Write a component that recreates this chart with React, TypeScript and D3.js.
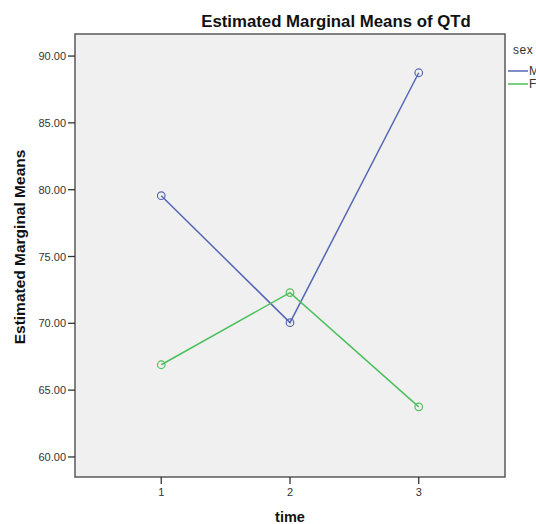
import React from "react";
import * as d3 from "d3";

const times = [1, 2, 3];
const xTickLabels = ["1", "2", "3"];
const yTicks = [60, 65, 70, 75, 80, 85, 90];
const maleValues = [79.55, 70.05, 88.75];
const femaleValues = [66.9, 72.3, 63.75];
const seriesNames = ["M", "F"];
const seriesColors = ["#5467b6", "#4cc05c"];

const W = 536;
const H = 524;
const plot = { left: 75, top: 34, right: 505, bottom: 477 };

export default function App() {
  const x = d3.scaleLinear().domain([0.33, 3.67]).range([plot.left, plot.right]);
  const y = d3.scaleLinear().domain([58.5, 91.65]).range([plot.bottom, plot.top]);
  const line = d3
    .line<number>()
    .x((_, i) => x(times[i]))
    .y((d) => y(d));
  const series = [maleValues, femaleValues];
  const font = "'Liberation Sans', Arial, sans-serif";

  return (
    <svg
      width={W}
      height={H}
      style={{ position: "absolute", left: 0, top: 0, background: "#fff" }}
      fontFamily={font}
    >
      <text x={336} y={26.5} textAnchor="middle" fontSize={16.8} fontWeight="bold" fill="#111">
        Estimated Marginal Means of QTd
      </text>
      <rect
        x={plot.left}
        y={plot.top}
        width={plot.right - plot.left}
        height={plot.bottom - plot.top}
        fill="#f0f0f0"
        stroke="#5a5a5a"
        strokeWidth={1.5}
      />
      {yTicks.map((t) => (
        <g key={t}>
          <line x1={plot.left - 7} x2={plot.left} y1={y(t)} y2={y(t)} stroke="#333" strokeWidth={1.3} />
          <text x={plot.left - 9} y={y(t) + 4} textAnchor="end" fontSize={11} fill="#333">
            {t.toFixed(2)}
          </text>
        </g>
      ))}
      {times.map((t, i) => (
        <g key={t}>
          <line x1={x(t)} x2={x(t)} y1={plot.bottom} y2={plot.bottom + 7} stroke="#333" strokeWidth={1.3} />
          <text x={x(t)} y={plot.bottom + 19} textAnchor="middle" fontSize={11} fill="#333">
            {xTickLabels[i]}
          </text>
        </g>
      ))}
      {series.map((vals, si) => (
        <g key={si}>
          <path d={line(vals) || ""} fill="none" stroke={seriesColors[si]} strokeWidth={1.5} />
          {vals.map((v, i) => (
            <circle key={i} cx={x(times[i])} cy={y(v)} r={3.8} fill="none" stroke={seriesColors[si]} strokeWidth={1.2} />
          ))}
        </g>
      ))}
      <text
        transform={`translate(25,247) rotate(-90)`}
        textAnchor="middle"
        fontSize={15.5}
        fontWeight="bold"
        fill="#111"
      >
        Estimated Marginal Means
      </text>
      <text x={290} y={522} textAnchor="middle" fontSize={14.5} fontWeight="bold" fill="#111">
        time
      </text>
      <text x={513} y={54} fontSize={12} fill="#333" letterSpacing={0.6}>
        sex
      </text>
      {seriesNames.map((n, i) => (
        <g key={n}>
          <line x1={508} x2={528} y1={71 + i * 13} y2={71 + i * 13} stroke={seriesColors[i]} strokeWidth={1.5} />
          <text x={529} y={75 + i * 13} fontSize={12} fill="#333">
            {n}
          </text>
        </g>
      ))}
    </svg>
  );
}
